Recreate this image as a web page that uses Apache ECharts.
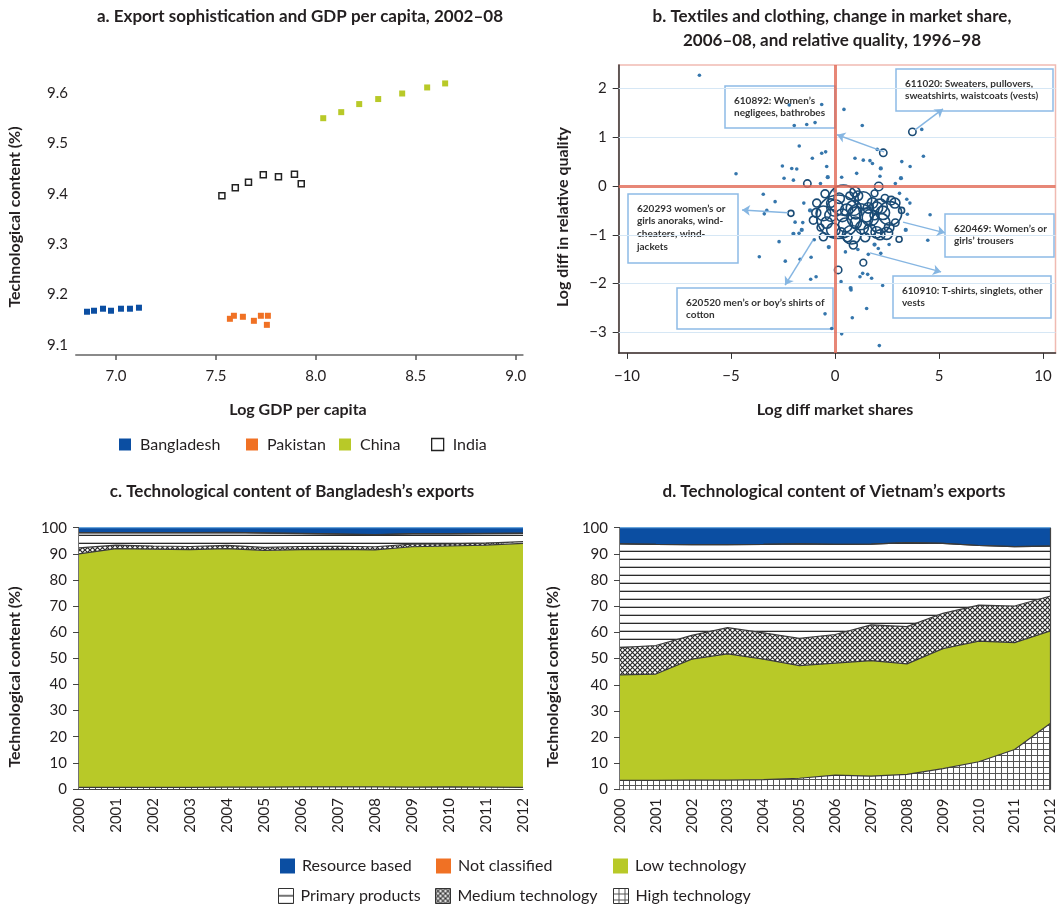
<!DOCTYPE html>
<html>
<head>
<meta charset="utf-8">
<script src="https://cdn.jsdelivr.net/npm/echarts@6/dist/echarts.min.js"></script>
<style>
  html, body { margin: 0; padding: 0; background: #fff; }
  #chart { width: 1061px; height: 907px; }
</style>
</head>
<body>
<div id="chart"></div>
<script>
// ---- Panel a: export sophistication vs. log GDP per capita, 2002-08 ----
const bangladeshGdp  = [6.855, 6.89, 6.935, 6.975, 7.025, 7.07, 7.115];
const bangladeshTech = [9.166, 9.168, 9.172, 9.168, 9.172, 9.172, 9.174];
const pakistanGdp    = [7.57, 7.59, 7.635, 7.69, 7.725, 7.76, 7.755];
const pakistanTech   = [9.152, 9.158, 9.156, 9.148, 9.158, 9.158, 9.140];
const chinaGdp       = [8.037, 8.127, 8.217, 8.312, 8.432, 8.557, 8.647];
const chinaTech      = [9.550, 9.562, 9.578, 9.588, 9.599, 9.611, 9.619];
const indiaGdp       = [7.53, 7.597, 7.663, 7.737, 7.813, 7.893, 7.927];
const indiaTech      = [9.396, 9.412, 9.423, 9.438, 9.434, 9.439, 9.420];
const gdpTicks  = [7.0, 7.5, 8.0, 8.5, 9.0];
const techTicks = [9.1, 9.2, 9.3, 9.4, 9.5, 9.6];

// ---- Panel b: textile products, [log diff market share, log diff quality, trade weight] ----
const productBubbles = [
  [-6.52, 2.27, 1], [-2.20, 1.66, 1], [-0.64, 1.67, 1], [-1.96, 1.24, 1], [-1.36, 1.26, 1],
  [-0.96, 1.30, 1], [-1.72, 0.82, 1], [-1.09, 0.57, 1], [-0.64, 0.67, 1], [-0.45, 0.70, 1],
  [-2.53, 0.41, 1], [-2.08, 0.36, 1], [-1.84, 0.35, 1], [-0.40, 0.40, 1], [-4.76, 0.25, 1],
  [-2.45, 0.16, 1], [-2.00, 0.12, 1], [-0.35, 0.18, 2], [-3.45, -0.17, 1], [-2.88, -0.32, 1],
  [-3.40, -0.57, 1], [-3.28, -0.50, 1], [-2.12, -0.56, 4], [-1.33, 0.05, 6], [-1.92, -0.74, 1],
  [-1.55, -0.75, 1], [-2.00, -0.98, 2], [-1.73, -0.97, 1], [-2.69, -1.14, 1], [-3.64, -1.45, 1],
  [-2.39, -1.54, 1], [-1.68, -1.50, 1], [-1.15, -1.46, 1], [0.15, -1.72, 6], [-1.17, -1.91, 1],
  [-0.91, -1.86, 1], [-0.48, -2.62, 1], [-0.16, -2.92, 1], [0.43, 1.57, 1], [1.31, 1.24, 1],
  [3.72, 1.11, 6], [4.17, 1.16, 1], [2.32, 0.68, 6], [2.03, 0.75, 1], [0.96, 0.57, 1],
  [1.36, 0.53, 1], [1.68, 0.52, 1], [1.80, 0.46, 1], [3.21, 0.50, 1], [4.25, 0.61, 1],
  [3.61, 0.40, 1], [2.20, 0.36, 2], [1.04, 0.26, 1], [2.16, 0.20, 1], [3.17, 0.16, 2],
  [0.32, 0.18, 1], [2.10, -0.01, 8], [3.45, -0.27, 1], [4.57, -0.59, 1], [3.48, -0.58, 1],
  [3.08, -1.09, 4], [4.46, -1.11, 1], [1.36, -1.57, 5], [2.08, -1.28, 1], [2.20, -1.38, 1],
  [1.60, -1.40, 1], [1.33, -1.79, 1], [1.57, -1.81, 1], [1.76, -1.89, 1], [1.20, -1.86, 1],
  [0.75, -2.09, 2], [2.29, -2.04, 1], [0.29, -1.96, 1], [1.52, -2.51, 1], [0.83, -2.70, 1],
  [0.32, -3.03, 1], [2.13, -3.27, 1], [0.77, -2.13, 1],
  [0.16, -0.63, 209], [0.40, -0.29, 100], [1.20, -0.63, 75], [0.80, -1.00, 38], [2.16, -0.76, 44],
  [2.64, -0.56, 61], [1.36, -0.29, 31], [-0.56, -0.56, 24], [2.16, -0.42, 24], [-0.08, -0.90, 20],
  [1.68, -0.90, 16], [2.48, -0.97, 16], [0.56, -0.49, 16], [-0.88, -0.35, 7], [-0.48, -0.16, 7],
  [2.88, -0.35, 11], [0.96, -0.12, 11], [-1.04, -0.70, 7], [-0.56, -1.04, 7], [2.16, -1.00, 11],
  [0.88, -1.21, 7], [1.60, -0.45, 12], [1.90, -0.60, 9], [1.00, -0.75, 14], [0.30, -0.95, 9],
  [1.45, -1.05, 9], [2.40, -0.25, 6], [-0.20, -0.35, 8], [0.70, -0.20, 6], [1.90, -0.15, 5],
  [2.90, -0.75, 6], [-0.70, -0.85, 5], [3.20, -0.50, 4],
  [0.00, -0.45, 30], [0.90, -0.45, 25], [1.70, -0.65, 30], [2.30, -0.55, 20], [0.50, -0.80, 22],
  [1.30, -0.85, 18], [2.00, -0.95, 14], [-0.40, -0.75, 14], [0.20, -0.25, 12], [1.10, -0.20, 10],
  [2.60, -0.85, 10], [0.60, -1.05, 9], [1.80, -0.35, 12], [-0.90, -0.55, 9], [2.70, -0.30, 8],
  [1.50, -0.60, 20], [0.35, -0.60, 18], [-0.20, -0.60, 16], [1.00, -0.55, 16], [2.00, -0.45, 16],
  [-1.20, -0.50, 2], [-1.50, -0.35, 1], [-1.60, -0.90, 2], [-1.00, -1.10, 1], [3.40, -0.90, 2],
  [3.60, -0.35, 1], [3.10, -0.15, 1], [2.60, -1.20, 1], [1.90, -1.20, 2], [0.50, -1.35, 1],
  [-0.30, -1.25, 2], [1.10, -1.30, 1], [2.90, 0.05, 1], [0.00, -0.10, 1], [-0.70, 0.05, 1]
];
const shareTicks   = [-10, -5, 0, 5, 10];
const qualityTicks = [-3, -2, -1, 0, 1, 2];
// highlighted products: label lines, arrow start and arrow end in data units
const callouts = [
  { lines: ['610892: Women’s', 'negligees, bathrobes'], from: [2.36, 0.70], to: [0.10, 1.05] },
  { lines: ['611020: Sweaters, pullovers,', 'sweatshirts, waistcoats (vests)'], from: [3.85, 1.15], to: [5.19, 1.58] },
  { lines: ['620293 women’s or', 'girls anoraks, wind-', 'cheaters, wind-', 'jackets'], from: [-2.26, -0.55], to: [-4.47, -0.49] },
  { lines: ['620520 men’s or boy’s shirts of', 'cotton'], from: [-1.06, -1.11], to: [-2.40, -2.03] },
  { lines: ['620469: Women’s or', 'girls’ trousers'], from: [3.27, -0.74], to: [5.29, -0.96] },
  { lines: ['610910: T-shirts, singlets, other', 'vests'], from: [1.68, -1.37], to: [5.10, -1.76] }
];

// ---- Panels c and d: technological content of exports (% shares) ----
const years = ['2000','2001','2002','2003','2004','2005','2006','2007','2008','2009','2010','2011','2012'];
const bdHigh      = [0.6, 0.6, 0.6, 0.6, 0.7, 0.7, 0.8, 0.8, 0.8, 0.7, 0.8, 0.7, 0.6];
const bdLow       = [89.4, 91.4, 91.2, 91.0, 91.3, 90.6, 90.8, 90.9, 90.7, 92.0, 92.2, 92.6, 93.4];
const bdMedium    = [2.3, 1.3, 1.2, 1.2, 1.2, 1.2, 1.2, 1.2, 1.2, 1.0, 0.8, 0.8, 0.7];
const bdPrimary   = [5.7, 4.7, 5.0, 5.2, 4.9, 5.4, 4.9, 4.6, 4.6, 3.9, 3.8, 3.6, 3.1];
const bdNotClass  = [0.1, 0.1, 0.1, 0.1, 0.1, 0.1, 0.1, 0.1, 0.1, 0.1, 0.1, 0.1, 0.1];
const bdResource  = [1.9, 1.9, 1.9, 1.9, 1.8, 2.0, 2.2, 2.4, 2.6, 2.3, 2.3, 2.2, 2.1];
const vnHigh      = [3.5, 3.5, 3.6, 3.6, 3.8, 4.3, 5.5, 5.1, 5.8, 8.0, 10.6, 15.3, 25.3];
const vnLow       = [40.3, 40.6, 46.2, 48.2, 46.0, 43.0, 42.8, 44.1, 42.2, 45.8, 46.1, 40.8, 35.3];
const vnMedium    = [10.4, 10.9, 9.1, 10.0, 10.0, 10.4, 10.9, 13.7, 14.2, 13.5, 13.7, 14.0, 13.3];
const vnPrimary   = [39.6, 38.6, 34.6, 31.7, 33.8, 36.1, 34.4, 30.8, 32.1, 26.7, 22.8, 22.7, 19.1];
const vnNotClass  = [0, 0, 0, 0, 0, 0, 0, 0, 0, 0, 0, 0, 0];
const vnResource  = [6.2, 6.4, 6.5, 6.5, 6.4, 6.2, 6.4, 6.3, 5.7, 6.0, 6.8, 7.2, 7.0];

// ---- colours and fill patterns ----
const BLUE = '#0b4ea2', ORANGE = '#f07124', GREEN = '#b8c928', INK = '#231f20';
const FONT = 'Lato';

function tile(size, draw) {
  const c = document.createElement('canvas');
  c.width = size; c.height = size;
  const g = c.getContext('2d');
  g.fillStyle = '#fff'; g.fillRect(0, 0, size, size);
  draw(g, size);
  return { image: c, repeat: 'repeat' };
}
const hLinePattern = tile(8, (g, s) => { g.fillStyle = '#2a2a2a'; g.fillRect(0, s - 1.3, s, 1.3); });
const crossPattern = tile(5, (g, s) => {
  g.strokeStyle = '#2a2a2a'; g.lineWidth = 1.2;
  g.beginPath();
  g.moveTo(-1, -1); g.lineTo(s + 1, s + 1);
  g.moveTo(-1, s + 1); g.lineTo(s + 1, -1);
  g.stroke();
});
const gridPattern = tile(6, (g, s) => {
  g.fillStyle = '#555';
  g.fillRect(s - 1, 0, 1, s);
  g.fillRect(0, s - 1, s, 1);
});

const chart = echarts.init(document.getElementById('chart'), null, { renderer: 'canvas' });

const zip = (xs, ys) => xs.map((x, i) => [x, ys[i]]);

// stacked area series for one country panel
function areaSeries(idx, stack, high, low, medium, primary, notClass, resource, edge) {
  const mk = (name, data, fill, lineColor) => ({
    name, type: 'line', xAxisIndex: idx, yAxisIndex: idx, stack,
    data, showSymbol: false, symbol: 'none', smooth: false,
    lineStyle: { color: lineColor, width: 1.2 },
    itemStyle: { color: fill },
    areaStyle: { color: fill, opacity: 1 },
    emphasis: { disabled: true }
  });
  const list = [
    mk('High technology', high, gridPattern, '#3a3a3a'),
    mk('Low technology', low, GREEN, '#3a3a3a'),
    mk('Medium technology', medium, crossPattern, '#3a3a3a'),
    mk('Primary products', primary, hLinePattern, '#3a3a3a'),
    mk('Not classified', notClass, ORANGE, '#3a3a3a'),
    mk('Resource based', resource, BLUE, '#6aa6dc')
  ];
  if (edge) {
    // closing outline on the last year
    list[list.length - 1].markLine = {
      silent: true, symbol: 'none', label: { show: false },
      lineStyle: { color: '#444', width: 1.2, type: 'solid' },
      data: [{ xAxis: years[years.length - 1] }]
    };
  }
  return list;
}

const rings = productBubbles.filter(d => d[2] > 2);
const dots = productBubbles.filter(d => d[2] <= 2);
const bubbleSize = v => Math.max(3.6, 3 * Math.sqrt(v[2]));

const axisText = { color: INK, fontSize: 15, fontFamily: FONT };

// annotation boxes in panel b (layout positions)
const boxes = [
  { x: 725, y: 86, w: 110, h: 42 },
  { x: 896, y: 69, w: 157, h: 42 },
  { x: 628, y: 194, w: 110, h: 69 },
  { x: 677, y: 288, w: 156, h: 41 },
  { x: 945, y: 214, w: 109, h: 43 },
  { x: 893, y: 276, w: 158, h: 42 }
];
const calloutGraphics = callouts.map((c, i) => {
  const b = boxes[i];
  return {
    type: 'group', x: b.x, y: b.y, z: 100,
    children: [
      { type: 'rect', shape: { x: 0, y: 0, width: b.w, height: b.h },
        style: { fill: 'rgba(255,255,255,0.55)', stroke: '#8dbbe6', lineWidth: 1.5 } },
      { type: 'text', x: 9, y: 8,
        style: { text: c.lines.join('\n'), fill: '#333', font: `bold 10px ${FONT}`, lineHeight: 12.7 } }
    ]
  };
});

function label(text, x, y, opts = {}) {
  return {
    type: 'text', x, y, rotation: opts.rotation || 0, z: 100,
    style: {
      text, fill: INK, font: `${opts.weight || 'bold'} ${opts.size || 16}px ${FONT}`,
      textAlign: 'center', textVerticalAlign: 'middle'
    }
  };
}

function legendItem(name, left, top, size, itemStyle, gap) {
  return {
    left, top, padding: 0, itemWidth: size, itemHeight: size, icon: 'rect',
    selectedMode: false,
    textStyle: { color: INK, fontSize: 16, fontFamily: FONT, padding: [0, 0, 0, gap] },
    data: [{ name, itemStyle: { opacity: 1, ...itemStyle } }]
  };
}

const option = {
  animation: false,
  backgroundColor: '#fff',
  textStyle: { fontFamily: FONT },
  grid: [
    { left: 76, top: 62.76, width: 446.7, height: 292.32 },
    { left: 618.7, top: 65, width: 436.8, height: 287.9, show: true, borderColor: 'rgba(228,130,115,0.55)', borderWidth: 1.5 },
    { left: 79, top: 527.7, width: 444, height: 261.3 },
    { left: 620, top: 527.7, width: 430.5, height: 261.8 }
  ],
  xAxis: [
    { type: 'value', gridIndex: 0, min: 6.8, max: 9.035,
      axisLine: { show: true, onZero: false, lineStyle: { color: '#8a8a8a', width: 2 } },
      axisTick: { show: true, length: 5, customValues: gdpTicks, lineStyle: { color: '#555', width: 1.5 } },
      axisLabel: { ...axisText, margin: 14, customValues: gdpTicks, formatter: v => v.toFixed(1) },
      splitLine: { show: false } },
    { type: 'value', gridIndex: 1, min: -10.4, max: 10.6,
      axisLine: { show: true, onZero: false, lineStyle: { color: '#333', width: 1.5 } },
      axisTick: { show: true, length: 6, customValues: shareTicks, lineStyle: { color: '#333' } },
      axisLabel: { ...axisText, margin: 16, customValues: shareTicks, formatter: v => String(v).replace('-', '−') },
      splitLine: { show: false } },
    { type: 'category', gridIndex: 2, data: years, boundaryGap: false,
      axisLine: { show: true, lineStyle: { color: '#444', width: 1.2 } },
      axisTick: { show: false },
      axisLabel: { ...axisText, rotate: 90, margin: 9, interval: 0 } },
    { type: 'category', gridIndex: 3, data: years, boundaryGap: false,
      axisLine: { show: true, lineStyle: { color: '#444', width: 1.2 } },
      axisTick: { show: false },
      axisLabel: { ...axisText, rotate: 90, margin: 9, interval: 0 } }
  ],
  yAxis: [
    { type: 'value', gridIndex: 0, min: 9.08, max: 9.66,
      axisLine: { show: false }, axisTick: { show: false },
      axisLabel: { ...axisText, margin: 8, customValues: techTicks, formatter: v => v.toFixed(1) },
      splitLine: { show: false } },
    { type: 'value', gridIndex: 1, min: -3.42, max: 2.48,
      axisLine: { show: true, onZero: false, lineStyle: { color: '#333', width: 1.5 } },
      axisTick: { show: true, length: 6, customValues: qualityTicks, lineStyle: { color: '#333' } },
      axisLabel: { ...axisText, margin: 12, customValues: qualityTicks, formatter: v => String(v).replace('-', '−') },
      splitLine: { show: false } },
    { type: 'value', gridIndex: 2, min: 0, max: 100, interval: 10,
      axisLine: { show: true, lineStyle: { color: '#444', width: 1.5 } },
      axisTick: { show: true, length: 6, lineStyle: { color: '#444' } },
      axisLabel: { ...axisText, margin: 12 },
      splitLine: { show: false } },
    { type: 'value', gridIndex: 3, min: 0, max: 100, interval: 10,
      axisLine: { show: true, lineStyle: { color: '#444', width: 1.5 } },
      axisTick: { show: true, length: 6, lineStyle: { color: '#444' } },
      axisLabel: { ...axisText, margin: 12 },
      splitLine: { show: false } }
  ],
  legend: [
    legendItem('Bangladesh', 119, 436.5, 12, { color: BLUE }, 4),
    legendItem('Pakistan', 246, 436.5, 12, { color: ORANGE }, 4),
    legendItem('China', 339, 436.5, 12, { color: GREEN }, 4),
    legendItem('India', 431, 436.5, 12, { color: '#fff', borderColor: '#222', borderWidth: 1.3 }, 4),
    legendItem('Resource based', 280, 858, 15, { color: BLUE }, 2),
    legendItem('Not classified', 436, 858, 15, { color: ORANGE }, 2),
    legendItem('Low technology', 613, 858, 15, { color: GREEN }, 2),
    legendItem('Primary products', 278, 888, 15, { color: hLinePattern, borderColor: '#333', borderWidth: 1 }, 2),
    legendItem('Medium technology', 435, 888, 15, { color: crossPattern, borderColor: '#333', borderWidth: 1 }, 2),
    legendItem('High technology', 613, 888, 15, { color: gridPattern, borderColor: '#333', borderWidth: 1 }, 2)
  ],
  graphic: [
    label('a. Export sophistication and GDP per capita, 2002–08', 300, 17, { size: 17 }),
    label('b. Textiles and clothing, change in market share,', 832, 17, { size: 17 }),
    label('2006–08, and relative quality, 1996–98', 832, 41, { size: 17 }),
    label('c. Technological content of Bangladesh’s exports', 292, 492, { size: 17 }),
    label('d. Technological content of Vietnam’s exports', 834, 492, { size: 17 }),
    label('Technological content (%)', 15, 217, { rotation: Math.PI / 2 }),
    label('Log GDP per capita', 298, 410),
    label('Log diff in relative quality', 563, 217, { rotation: Math.PI / 2 }),
    label('Log diff market shares', 835, 410),
    label('Technological content (%)', 15, 677, { rotation: Math.PI / 2 }),
    label('Technological content (%)', 553, 677, { rotation: Math.PI / 2 }),
    ...calloutGraphics
  ],
  series: [
    // panel a
    { name: 'Bangladesh', type: 'scatter', xAxisIndex: 0, yAxisIndex: 0, symbol: 'rect', symbolSize: 6,
      itemStyle: { color: BLUE, opacity: 1 }, data: zip(bangladeshGdp, bangladeshTech) },
    { name: 'Pakistan', type: 'scatter', xAxisIndex: 0, yAxisIndex: 0, symbol: 'rect', symbolSize: 6,
      itemStyle: { color: ORANGE, opacity: 1 }, data: zip(pakistanGdp, pakistanTech) },
    { name: 'China', type: 'scatter', xAxisIndex: 0, yAxisIndex: 0, symbol: 'rect', symbolSize: 6,
      itemStyle: { color: GREEN, opacity: 1 }, data: zip(chinaGdp, chinaTech) },
    { name: 'India', type: 'scatter', xAxisIndex: 0, yAxisIndex: 0, symbol: 'rect', symbolSize: 6,
      itemStyle: { color: '#fff', borderColor: '#222', borderWidth: 1.5, opacity: 1 }, data: zip(indiaGdp, indiaTech) },

    // panel b: reference lines and faint grid
    { type: 'scatter', xAxisIndex: 1, yAxisIndex: 1, data: [], z: 1, silent: true,
      markLine: { silent: true, symbol: 'none', label: { show: false },
        lineStyle: { color: '#d6e7f5', width: 1, type: 'solid' },
        data: qualityTicks.filter(v => v !== 0).map(v => ({ yAxis: v })) } },
    { type: 'scatter', xAxisIndex: 1, yAxisIndex: 1, data: [], z: 2, silent: true,
      markLine: { silent: true, symbol: 'none', label: { show: false },
        lineStyle: { color: 'rgba(225,105,85,0.8)', width: 3, type: 'solid' },
        data: [{ xAxis: 0 }, { yAxis: 0 }] } },
    { type: 'scatter', xAxisIndex: 1, yAxisIndex: 1, z: 3, data: dots, symbolSize: bubbleSize,
      itemStyle: { color: '#2a6fa8', opacity: 0.95 } },
    { type: 'scatter', xAxisIndex: 1, yAxisIndex: 1, z: 4, data: rings, symbolSize: bubbleSize,
      itemStyle: { color: 'rgba(0,0,0,0)', borderColor: '#1a4b75', borderWidth: 1.6, opacity: 1 } },
    { type: 'scatter', xAxisIndex: 1, yAxisIndex: 1, data: [], z: 5, silent: true,
      markLine: { silent: true, symbol: ['none', 'arrow'], symbolSize: 8, label: { show: false },
        lineStyle: { color: '#86b6e2', width: 1.5, type: 'solid' },
        data: callouts.map(c => [{ coord: c.from }, { coord: c.to }]) } },

    // panels c and d
    ...areaSeries(2, 'bangladesh', bdHigh, bdLow, bdMedium, bdPrimary, bdNotClass, bdResource, false),
    ...areaSeries(3, 'vietnam', vnHigh, vnLow, vnMedium, vnPrimary, vnNotClass, vnResource, true)
  ]
};

chart.setOption(option);
</script>
</body>
</html>
